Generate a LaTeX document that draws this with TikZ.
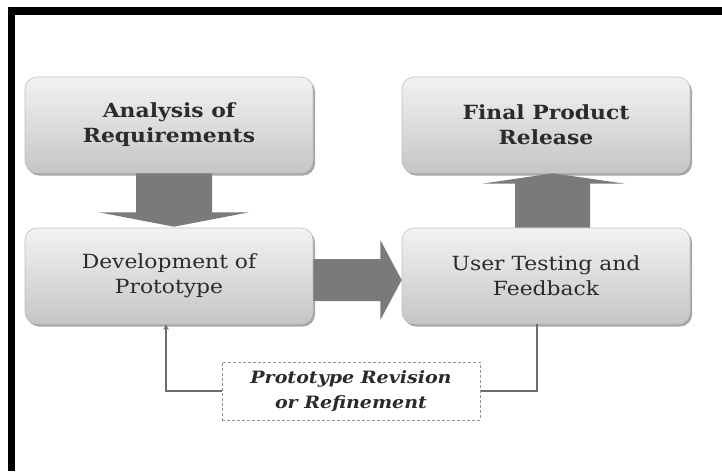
\documentclass[tikz,border=0pt]{standalone}
\usepackage{fontspec}
\setmainfont{DejaVu Serif}[FakeStretch=1.12]
\usepackage{tikz}
\usetikzlibrary{positioning,shadows,calc}
\definecolor{boxtext}{HTML}{2B2B2B}
\definecolor{blockgray}{HTML}{7A7A7A}
\definecolor{linegray}{HTML}{6E6E6E}
\tikzstyle{stage} = [rectangle, rounded corners=12pt, minimum width=288pt, minimum height=96pt, text centered, align=center, top color=gray!10, bottom color=gray!45, draw=gray!50, line width=0.6pt, drop shadow={shadow xshift=2pt, shadow yshift=-2.5pt, fill=black, opacity=0.35}, text=boxtext, font=\fontsize{19.5}{25}\selectfont]
\tikzstyle{keystage} = [stage, font=\fontsize{19.5}{25}\selectfont\bfseries]
\tikzstyle{loopbox} = [rectangle, minimum width=258pt, minimum height=58pt, text centered, align=center, draw=gray!85, dash pattern=on 3pt off 2pt, line width=1pt, fill=white, text=boxtext, font=\fontsize{17}{25}\selectfont\bfseries\itshape]
\tikzstyle{blockarrow} = [fill=blockgray]
\tikzstyle{loopline} = [draw=linegray, line width=1.5pt]
\tikzstyle{arrow} = [loopline, ->, >=stealth]

\begin{document}
\begin{tikzpicture}[x=1pt, y=-1pt, node distance=151pt]

	\useasboundingbox (0,0) rectangle (722,471);
	\fill (8,7) rectangle (722,15);
	\fill (8,7) rectangle (15,471);

	\node (analysis) [keystage] at (169,125) {Analysis of\\Requirements};
	\node (prototype) [stage, below of=analysis] {Development of\\Prototype};
	\node (testing) [stage, right of=prototype, node distance=377pt] {User Testing and\\Feedback};
	\node (release) [keystage, above of=testing] {Final Product\\Release};
	\node (revision) [loopbox] at (351,391) {Prototype Revision\\or Refinement};

	\fill [blockarrow] ($(analysis.south)+(-33,0)$) -- ++(0,39) -- ++(-37,0) -- ($(prototype.north)+(5,-1)$) -- ($(analysis.south)+(80,39)$) -- ++(-37,0) -- ($(analysis.south)+(43,0)$) -- cycle;
	\fill [blockarrow] ($(prototype.east)+(0,-17)$) -- ++(67,0) -- ++(0,-19) -- ($(testing.west)+(0,4)$) -- ($(prototype.east)+(67,44)$) -- ++(0,-19) -- ($(prototype.east)+(0,25)$) -- cycle;
	\fill [blockarrow] ($(testing.north)+(-31,0)$) -- ++(0,-44) -- ++(-33,0) -- ($(release.south)+(7,0)$) -- ($(testing.north)+(79,-44)$) -- ++(-35,0) -- ($(testing.north)+(44,0)$) -- cycle;
	\draw [loopline] ($(testing.south)+(-9,0)$) |- (revision.east);
	\draw [arrow] (revision.west) -| ($(prototype.south)+(-3,0)$);

\end{tikzpicture}
\end{document}
